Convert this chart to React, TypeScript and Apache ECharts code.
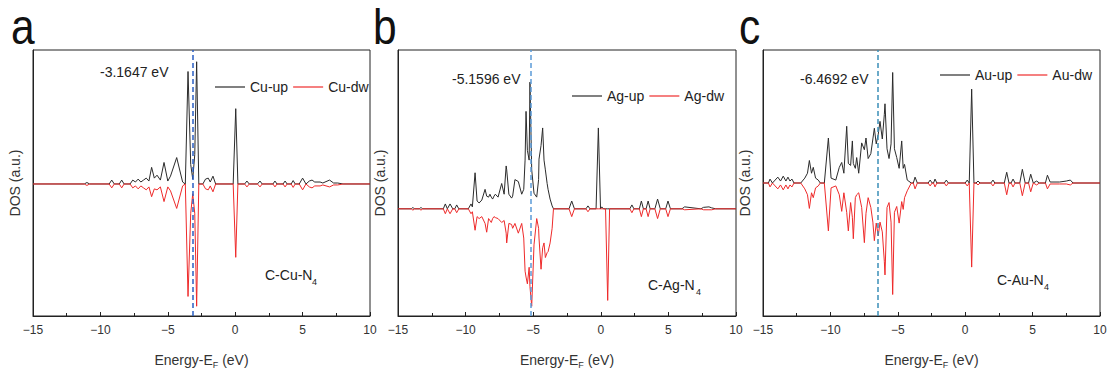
import React, { useEffect, useRef } from "react";
import * as echarts from "echarts";

const FONT = '"Liberation Sans", Arial, Helvetica, sans-serif';

// ---------- Panel a : C-Cu-N4 ----------
const aE = [-15, -11.2, -11.0, -10.8, -9.35, -9.16, -8.97, -8.6, -8.42, -8.24, -7.8, -7.6, -7.4, -7.2, -7.0, -6.8, -6.6, -6.4, -6.2, -6.0, -5.8, -5.55, -5.28, -5.0, -4.8, -4.34, -3.9, -3.7, -3.5, -3.3, -3.15, -3.0, -2.86, -2.7, -2.4, -2.2, -2.0, -1.85, -1.65, -1.45, -0.15, 0.04, 0.2, 0.7, 0.87, 1.04, 1.65, 1.84, 2.0, 2.8, 2.95, 3.1, 3.55, 3.7, 3.85, 4.15, 4.3, 4.45, 4.75, 5.0, 5.25, 5.5, 5.7, 5.9, 6.3, 6.5, 7.0, 7.3, 7.6, 8.0, 10];
const aUp = [0, 0, 0.15, 0, 0, 0.4, 0, 0, 0.4, 0, 0, 0.4, 0.2, 0.5, 0.2, 0.4, 0.6, 0.3, 1.7, 0.6, 0.9, 0.4, 2.2, 0.3, 0.8, 2.7, 0.2, 0, 11.5, 2.0, 0.5, 3.0, 12.5, 0, 0, 0.5, 0.6, 0.2, 0.8, 0, 0, 7.7, 0, 0, 0.3, 0, 0, 0.3, 0, 0, 0.3, 0, 0, 0.3, 0, 0, 0.35, 0, 0, 0.6, 0, 0.3, 0.4, 0.2, 0.2, 0.1, 0.4, 0.1, 0.1, 0, 0];
const aDw = [0, 0, -0.15, 0, 0, -0.4, 0, 0, -0.4, 0, 0, -0.4, -0.2, -0.5, -0.2, -0.4, -0.6, -0.3, -1.3, -0.5, -0.6, -0.3, -1.8, -0.3, -0.7, -2.5, -0.2, 0, -11.5, -3.0, -1.0, -3.0, -12.5, 0, 0, -0.5, -0.6, -0.2, -0.8, 0, 0, -7.5, 0, 0, -0.3, 0, 0, -0.3, 0, 0, -0.3, 0, 0, -0.3, 0, 0, -0.35, 0, 0, -0.6, 0, -0.3, -0.4, -0.2, -0.2, -0.1, -0.3, -0.1, -0.1, 0, 0];

// ---------- Panel b : C-Ag-N4 ----------
const bE = [-15, -14.0, -13.9, -13.8, -13.4, -13.3, -13.2, -11.65, -11.5, -11.35, -11.15, -10.95, -10.8, -10.66, -10.5, -9.8, -9.6, -9.5, -9.3, -9.15, -9.0, -8.8, -8.56, -8.44, -8.3, -8.2, -8.1, -8.0, -7.9, -7.8, -7.6, -7.33, -7.15, -7.0, -6.96, -6.8, -6.6, -6.52, -6.35, -6.1, -5.85, -5.7, -5.6, -5.53, -5.43, -5.3, -5.24, -5.11, -4.94, -4.74, -4.6, -4.57, -4.42, -4.3, -4.2, -4.1, -3.97, -3.9, -3.75, -3.6, -3.5, -2.35, -2.15, -1.95, -1.1, -0.95, -0.8, -0.35, -0.18, -0.02, 0.07, 0.2, 0.35, 0.51, 0.65, 2.15, 2.3, 2.45, 2.85, 3.0, 3.15, 3.35, 3.5, 3.65, 4.0, 4.2, 4.4, 4.8, 4.97, 5.15, 6.0, 6.2, 7.4, 7.6, 8.0, 8.2, 8.5, 10];
const bUp = [0, 0, 0.15, 0, 0, 0.15, 0, 0, 0.5, 0, 0.5, 0, 0, 0.4, 0, 0, 0.5, 0.2, 3.7, 0.8, 0.6, 0.9, 2.0, 1.3, 1.2, 1.5, 1.2, 1.0, 1.3, 1.5, 1.2, 2.6, 1.5, 4.4, 4.0, 1.5, 1.1, 1.3, 3.0, 2.8, 1.5, 2.0, 5.0, 10.0, 6.0, 5.0, 13.0, 4.0, 1.6, 1.2, 3.0, 5.1, 6.5, 8.3, 5.0, 4.0, 2.6, 2.0, 1.0, 0.3, 0, 0, 0.8, 0, 0, 0.3, 0, 0, 8.3, 0, 0.2, 0, 0, 0, 0, 0, 0.4, 0, 0, 0.8, 0, 0, 0.8, 0, 0, 1.0, 0, 0, 0.8, 0, 0, 0.2, 0, 0.15, 0.2, 0.1, 0, 0];
const bDw = [0, 0, -0.15, 0, 0, -0.15, 0, 0, -0.5, 0, -0.5, 0, 0, -0.4, 0, 0, -0.5, -0.3, -2.2, -0.8, -1.0, -0.8, -1.5, -2.4, -1.0, -1.2, -1.4, -1.0, -0.8, -0.9, -1.0, -1.4, -1.2, -2.5, -3.5, -1.5, -1.6, -2.0, -1.5, -2.5, -1.5, -3.0, -6.4, -7.0, -7.7, -6.0, -8.0, -10.0, -3.7, -1.0, -2.0, -3.0, -6.2, -4.0, -3.5, -5.0, -4.5, -4.4, -3.5, -2.0, 0, 0, -0.8, 0, 0, -0.3, 0, 0, 0, 0, 0, 0, 0, -9.4, 0, 0, -0.4, 0, 0, -0.8, 0, 0, -0.8, 0, 0, -1.0, 0, 0, -0.8, 0, 0, -0.1, 0, -0.1, -0.1, -0.1, 0, 0];

// ---------- Panel c : C-Au-N4 ----------
const cE = [-15, -14.6, -14.48, -14.3, -14.1, -13.9, -13.7, -13.5, -13.3, -13.15, -13.0, -12.85, -12.7, -12.2, -11.9, -11.7, -11.56, -11.4, -11.27, -11.1, -10.9, -10.75, -10.45, -10.15, -9.95, -9.6, -9.34, -9.16, -9.0, -8.79, -8.67, -8.5, -8.37, -8.3, -8.15, -8.05, -7.9, -7.68, -7.48, -7.36, -7.2, -7.0, -6.85, -6.74, -6.6, -6.45, -6.32, -6.15, -6.0, -5.95, -5.8, -5.65, -5.5, -5.38, -5.25, -5.08, -4.9, -4.71, -4.6, -4.5, -4.3, -4.0, -3.85, -3.72, -3.55, -2.75, -2.6, -2.45, -2.35, -2.24, -2.1, -1.55, -1.4, -1.25, 0.0, 0.15, 0.3, 0.48, 0.65, 0.8, 0.95, 1.1, 1.9, 2.06, 2.2, 2.9, 3.08, 3.25, 3.4, 3.55, 3.7, 4.05, 4.24, 4.45, 4.7, 4.86, 5.05, 5.3, 5.5, 5.95, 6.1, 6.3, 7.0, 7.5, 7.8, 8.0, 10];
const cUp = [0, 0, 0.4, 0, 0.3, 0.6, 0.2, 0.7, 0.2, 0.6, 0.2, 0.4, 0, 0, 0.5, 1.0, 2.3, 1.0, 1.6, 0.5, 0.3, 0, 0, 4.6, 0.5, 0.3, 1.6, 2.1, 1.0, 5.8, 2.0, 1.8, 4.3, 2.0, 1.5, 2.6, 1.0, 4.1, 3.4, 4.6, 2.5, 3.0, 4.5, 5.6, 4.0, 5.0, 6.3, 4.5, 7.0, 8.1, 3.5, 2.5, 4.0, 11.3, 3.5, 2.6, 1.5, 4.3, 1.5, 1.9, 0.3, 0, 0, 0.6, 0, 0, 0.3, 0, 0, 0.4, 0, 0, 0.3, 0, 0, 0.3, 0, 9.6, 0, 0, 0.2, 0, 0, 0.3, 0, 0, 1.1, 0, 0, 0.4, 0, 0, 1.4, 0, 0, 0.9, 0, 0.2, 0, 0, 0.8, 0.1, 0.1, 0.2, 0.3, 0, 0];
const cDw = [0, 0, -0.4, 0, -0.3, -0.6, -0.2, -0.7, -0.2, -0.6, -0.2, -0.4, 0, 0, -0.6, -1.2, -2.6, -1.0, -1.5, -0.5, -0.3, 0, 0, -4.9, -0.5, -0.3, -1.2, -2.9, -1.0, -3.0, -4.9, -2.0, -3.5, -5.7, -1.5, -1.2, -1.0, -2.5, -6.1, -3.1, -1.5, -2.5, -4.0, -5.9, -4.1, -5.4, -4.0, -5.0, -8.0, -9.4, -2.5, -2.0, -4.0, -11.4, -3.0, -2.4, -4.1, -1.9, -2.7, -1.5, -0.8, 0, 0, -0.6, 0, 0, -0.3, 0, 0, -0.4, 0, 0, -0.3, 0, 0, -0.3, 0, -8.6, 0, 0, -0.2, 0, 0, -0.3, 0, 0, -1.2, 0, 0, -0.4, 0, 0, -1.3, 0, 0, -0.9, 0, -0.2, 0, 0, -0.6, -0.1, -0.1, -0.1, -0.2, 0, 0];

// d-band centres (eV)
const dCenters = [-3.1647, -5.1596, -6.4692];
const centerLabels = ["-3.1647 eV", "-5.1596 eV", "-6.4692 eV"];
const upNames = ["Cu-up", "Ag-up", "Au-up"];
const dwNames = ["Cu-dw", "Ag-dw", "Au-dw"];
const systems = ["C-Cu-N", "C-Ag-N", "C-Au-N"];
const panelLetters = ["a", "b", "c"];
const yRanges = [[-13.5, 13.7], [-11.0, 16.3], [-13.6, 13.6]];
const xTicks = { min: -15, max: 10, interval: 5 };

const energies = [aE, bE, cE];
const ups = [aUp, bUp, cUp];
const dws = [aDw, bDw, cDw];

const zip = (xs: number[], ys: number[]) => xs.map((x, i) => [x, ys[i]]);

export default function App() {
  const ref = useRef<HTMLDivElement>(null);
  useEffect(() => {
    if (!ref.current) return;
    const chart = echarts.init(ref.current, null, { renderer: "svg" });

    const lefts = [33, 398, 763];
    const widths = [337, 338, 337];
    const top = 50;
    const height = 272;
    const dashColors = ["#2a5fc4", "#5b9ad8", "#3b8fb8"];
    const legendLefts = [210, 567, 935];
    const legendTops = [75, 84, 63];
    const annot = [
      { x: 100, y: 73 },
      { x: 452, y: 80 },
      { x: 800, y: 80 },
    ];
    const sysPos = [
      { x: 265, y: 276 },
      { x: 648, y: 286 },
      { x: 997, y: 281 },
    ];
    const letterX = [11, 373, 739];

    const grids: any[] = [];
    const xAxes: any[] = [];
    const yAxes: any[] = [];
    const series: any[] = [];
    const legends: any[] = [];
    const graphics: any[] = [];

    for (let i = 0; i < 3; i++) {
      grids.push({
        left: lefts[i],
        top,
        width: widths[i],
        height,
        show: true,
        borderColor: "#222",
        borderWidth: 1,
        backgroundColor: "transparent",
      });
      xAxes.push({
        gridIndex: i,
        type: "value",
        min: xTicks.min,
        max: xTicks.max,
        interval: xTicks.interval,
        axisLine: { onZero: false, lineStyle: { color: "#222", width: 1 } },
        axisTick: { inside: true, length: 4, lineStyle: { color: "#222" } },
        minorTick: { show: true, splitNumber: 2, length: 3, lineStyle: { color: "#222" } },
        splitLine: { show: false },
        axisLabel: {
          fontSize: 12,
          color: "#333",
          fontFamily: FONT,
          margin: 8,
          formatter: (v: number) => String(v).replace("-", "\u2212"),
        },
        name: "{a|Energy-E}{s|F}{a| (eV)}",
        nameLocation: "middle",
        nameGap: 35,
        nameTextStyle: {
          fontFamily: FONT,
          color: "#333",
          rich: {
            a: { fontSize: 14, fontFamily: FONT, color: "#333", lineHeight: 18, verticalAlign: "middle" },
            s: { fontSize: 9, fontFamily: FONT, color: "#333", lineHeight: 18, verticalAlign: "bottom", padding: [6, 0, 0, 0] },
          },
        },
      });
      yAxes.push({
        gridIndex: i,
        type: "value",
        min: yRanges[i][0],
        max: yRanges[i][1],
        axisLine: { show: true, onZero: false, lineStyle: { color: "#222", width: 1 } },
        axisTick: { show: false },
        axisLabel: { show: false },
        splitLine: { show: false },
        name: "DOS (a.u.)",
        nameLocation: "middle",
        nameGap: 11,
        nameTextStyle: { fontSize: 14, fontFamily: FONT, color: "#333" },
      });
      series.push({
        name: upNames[i],
        type: "line",
        xAxisIndex: i,
        yAxisIndex: i,
        data: zip(energies[i], ups[i]),
        symbol: "none",
        color: "#2b2b2b",
        lineStyle: { width: 1, color: "#2b2b2b" },
        z: 2,
      });
      series.push({
        name: dwNames[i],
        type: "line",
        xAxisIndex: i,
        yAxisIndex: i,
        data: zip(energies[i], dws[i]),
        symbol: "none",
        color: "#ee2a2a",
        lineStyle: { width: 1, color: "#ee2a2a" },
        z: 3,
        markLine: {
          silent: true,
          symbol: "none",
          label: { show: false },
          lineStyle: { color: dashColors[i], type: [5, 3], width: 1.5 },
          data: [{ xAxis: dCenters[i] }],
          z: 5,
        },
      });
      legends.push({
        data: [upNames[i], dwNames[i]],
        left: legendLefts[i],
        top: legendTops[i],
        icon: "rect",
        itemWidth: 30,
        itemHeight: 1.2,
        itemGap: 5,
        textStyle: { fontSize: 14, fontFamily: FONT, color: "#222", lineHeight: 14 },
      });
      graphics.push({
        type: "text",
        left: annot[i].x,
        top: annot[i].y - 8,
        style: { text: centerLabels[i], fontSize: 14, fontFamily: FONT, fill: "#222" },
      });
      graphics.push({
        type: "text",
        left: sysPos[i].x,
        top: sysPos[i].y - 8,
        style: { text: systems[i], fontSize: 14, fontFamily: FONT, fill: "#222" },
      });
      graphics.push({
        type: "text",
        x: sysPos[i].x + (i === 0 ? 47 : i === 1 ? 48 : 47),
        y: sysPos[i].y + 1,
        style: { text: "4", fontSize: 9, fontFamily: FONT, fill: "#222" },
      });
      graphics.push({
        type: "text",
        x: letterX[i],
        y: 2,
        scaleX: 0.85,
        style: {
          text: panelLetters[i],
          fontSize: 50,
          fontFamily: FONT,
          fill: "#111",
          verticalAlign: "top",
        },
      });
    }

    chart.setOption({
      animation: false,
      backgroundColor: "#fff",
      grid: grids,
      xAxis: xAxes,
      yAxis: yAxes,
      legend: legends,
      series,
      graphic: graphics,
    });
    return () => chart.dispose();
  }, []);
  return (
    <div
      ref={ref}
      style={{ position: "absolute", left: 0, top: 0, width: 1113, height: 374 }}
    />
  );
}
